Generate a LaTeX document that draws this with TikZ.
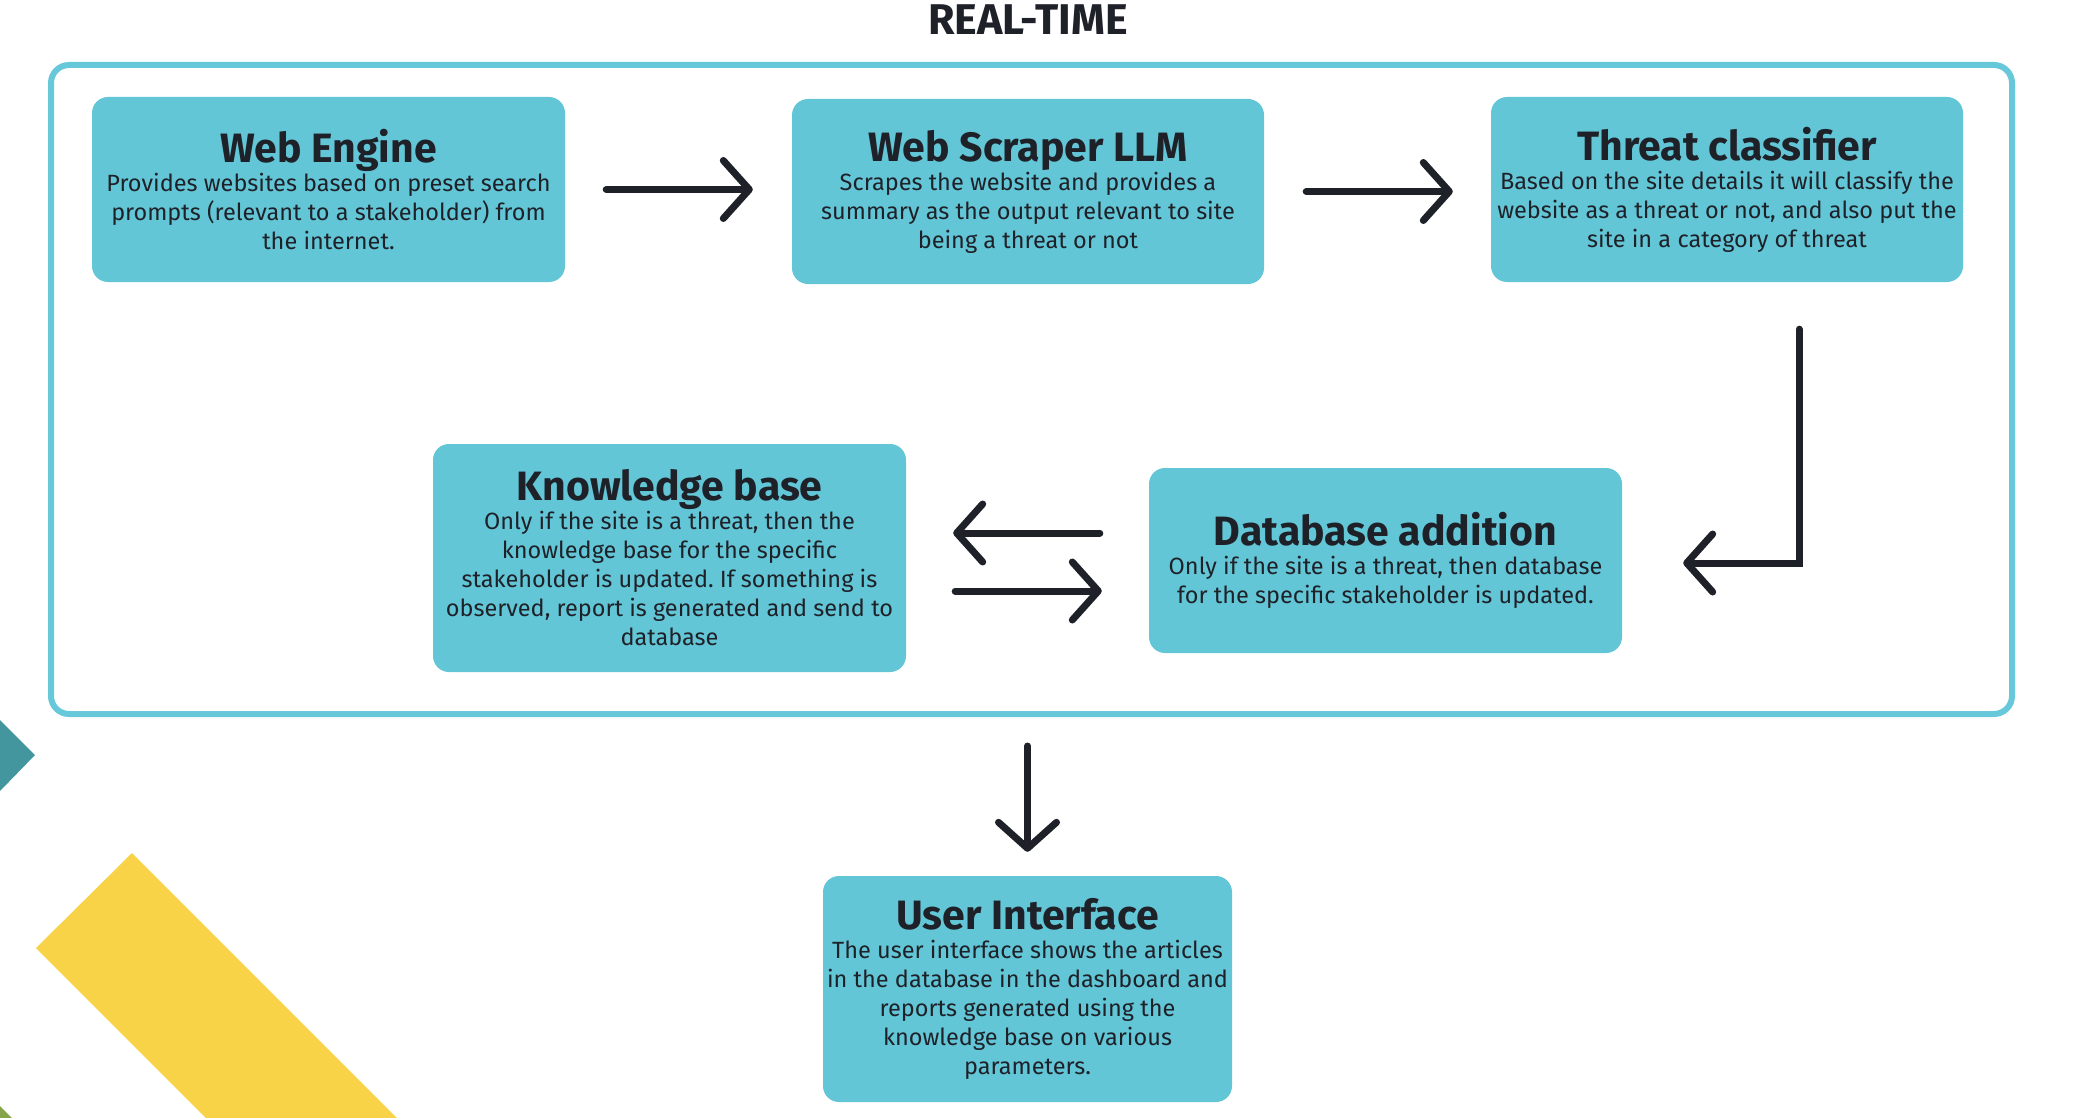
\documentclass[tikz,border=0pt]{standalone}
\usepackage{fontspec}
\setmainfont{Fira Sans}
\usetikzlibrary{positioning,arrows.meta}

\definecolor{boxcyan}{HTML}{62C6D6}
\definecolor{framecyan}{HTML}{66C8D8}
\definecolor{ink}{HTML}{1F2129}
\definecolor{leafteal}{HTML}{43959E}
\definecolor{leafyellow}{HTML}{F8D347}
\definecolor{leafgreen}{HTML}{86A548}

\newcommand{\boxtitle}[1]{{\bfseries\fontsize{41}{30}\selectfont #1}}

\tikzset{
  stage/.style={fill=boxcyan, rounded corners=16pt, align=center, inner sep=0pt, text=ink,
    font=\fontsize{23.5}{29}\selectfont\frenchspacing},
  flow/.style={draw=ink, line width=7pt, line cap=round,
    -{Straight Barb[round,length=26pt,width=58pt]}},
}

\begin{document}
\begin{tikzpicture}[x=1pt,y=1pt]
\useasboundingbox (0,0) rectangle (2098,-1118);

% corner leaves
\fill[leafteal] (0,-720) -- (35,-755) -- (0,-791) -- cycle;
\fill[leafyellow] (36,-948) -- (132,-853) -- (397,-1118) -- (206,-1118) -- cycle;
\fill[leafgreen] (0,-1106) -- (12,-1118) -- (0,-1118) -- cycle;

\node (title) at (1028,-20) [text=ink] {\bfseries\fontsize{43}{43}\selectfont REAL-TIME};
\node (frame) at (1031.5,-389.5) [draw=framecyan, line width=6pt, rounded corners=18pt,
  minimum width=1961pt, minimum height=649pt] {};

\node (we) at (328.5,-189.5) [stage, minimum width=473pt, minimum height=185pt]
  {\boxtitle{Web Engine}\\Provides websites based on preset search\\
   prompts (relevant to a stakeholder) from\\the internet.};
\node (ws) at (1028,-191.5) [stage, minimum width=472pt, minimum height=185pt]
  {\boxtitle{Web Scraper LLM}\\Scrapes the website and provides a\\
   summary as the output relevant to site\\being a threat or not};
\node (tc) at (1727,-189.5) [stage, minimum width=472pt, minimum height=185pt]
  {\boxtitle{Threat classifier}\\Based on the site details it will classify the\\
   website as a threat or not, and also put the\\site in a category of threat};

\node (kb) at (669.5,-558) [stage, minimum width=473pt, minimum height=228pt]
  {\boxtitle{Knowledge base}\\Only if the site is a threat, then the\\
   knowledge base for the specific\\stakeholder is updated. If something is\\
   observed, report is generated and send to\\database};
\node (db) at (1385.5,-560.5) [stage, minimum width=473pt, minimum height=185pt]
  {\boxtitle{Database addition}\\Only if the site is a threat, then database\\
   for the specific stakeholder is updated.};

\node (ui) at (1027.5,-989) [stage, minimum width=409pt, minimum height=226pt]
  {\boxtitle{User Interface}\\The user interface shows the articles\\
   in the database in the dashboard and\\reports generated using the\\
   knowledge base on various\\parameters.};

\draw[flow, shorten <=41pt, shorten >=39pt] (we.east) -- (we.east -| ws.west);
\draw[flow, shorten <=42pt, shorten >=38pt] (ws.east) -- (ws.east -| tc.west);
\draw[flow, shorten >=61pt] ([xshift=-164pt,yshift=-47pt]tc.south east) |- ([yshift=-2.5pt]db.east);

\coordinate (dbin) at ([yshift=27.5pt]db.west);
\coordinate (kbout) at ([yshift=-33pt]kb.east);
\draw[flow, shorten <=49pt, shorten >=47pt] (dbin) -- (dbin -| kb.east);
\draw[flow, shorten <=49pt, shorten >=47pt] (kbout) -- (kbout -| db.west);

\draw[flow, shorten <=29pt, shorten >=24pt] (ui.north |- frame.south) -- (ui.north);

\end{tikzpicture}
\end{document}
